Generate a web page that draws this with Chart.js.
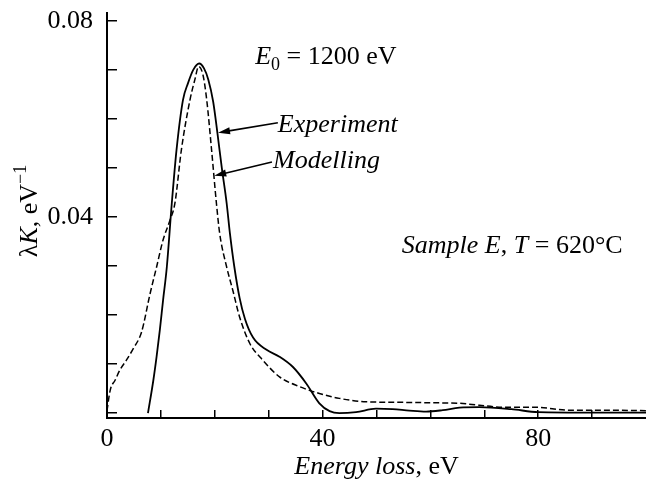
<!DOCTYPE html>
<html>
<head>
<meta charset="utf-8">
<script src="https://cdn.jsdelivr.net/npm/chart.js@4.4.1/dist/chart.umd.min.js"></script>
<style>
  html, body { margin: 0; padding: 0; background: #fff; }
  canvas { display: block; }
</style>
</head>
<body>
<canvas id="lossChart" width="646" height="485"></canvas>
<script>
// Energy loss (eV) and lambda*K (1/eV)
const expEnergy = [7.6, 8.6, 9.2, 9.8, 10.4, 11.1, 12.0, 12.9, 14.1, 15.0,
    16.0, 17.1, 18.0, 18.8, 19.7, 20.5, 21.3, 22.2, 22.8, 23.6,
    24.6, 25.6, 27.1, 29.6, 32.0, 34.5, 37.0, 39.4, 41.3, 43.1,
    46.2, 49.9, 53.0, 56.1, 59.2, 62.3, 65.4, 69.1, 75, 80, 90, 100];
const expValue = [0, 0.0067, 0.0115, 0.0169, 0.023, 0.0298, 0.0425, 0.0537, 0.0639, 0.0672,
    0.0700, 0.0713, 0.0703, 0.068, 0.0635, 0.057, 0.050, 0.0428, 0.0367, 0.030,
    0.0235, 0.0192, 0.0154, 0.0129, 0.0115, 0.0094, 0.006, 0.002, 0.0004, 0,
    0.0002, 0.0009, 0.0008, 0.0005, 0.0003, 0.0006, 0.0011, 0.0012, 0.0008, 0.0002, 0.0001, 0.0001];

const modEnergy = [0, 0.6, 1.5, 2.4, 3.6, 4.9, 6.4, 8.0, 9.2, 10.4,
    11.7, 12.6, 13.8, 15.4, 16.3, 17.0, 17.8, 18.5, 19.4, 20.3,
    20.9, 22.2, 23.4, 24.6, 26.5, 28.9, 32.0, 35.7, 39.4, 43.1,
    48.1, 54.3, 60.4, 65.4, 69.1, 73.4, 79.5, 85.7, 91.9, 100];
const modValue = [0.0005, 0.0047, 0.0067, 0.0088, 0.0108, 0.0132, 0.0165, 0.0244, 0.0298, 0.0353,
    0.0394, 0.0428, 0.0537, 0.0639, 0.068, 0.0707, 0.069, 0.0639, 0.0537, 0.0428,
    0.0367, 0.0298, 0.0248, 0.0196, 0.0142, 0.0108, 0.0074, 0.0054, 0.004, 0.003,
    0.0023, 0.0022, 0.0021, 0.002, 0.0016, 0.0012, 0.0012, 0.0006, 0.0006, 0.0005];

const xTickValues = [0, 10, 20, 30, 40, 50, 60, 70, 80, 90];
const xTickText = ['0', '', '', '', '40', '', '', '', '80', ''];
const yTickValues = [0, 0.01, 0.02, 0.03, 0.04, 0.05, 0.06, 0.07, 0.08];
const yTickText = ['', '', '', '', '0.04', '', '', '', '0.08'];

const SERIF = "'Liberation Serif', 'Times New Roman', serif";

function toPoints(xs, ys) {
    return xs.map((x, i) => ({ x: x, y: ys[i] }));
}

// draw a row of text pieces with their own fonts, left to right
function drawRuns(ctx, x, y, runs) {
    runs.forEach(r => {
        ctx.font = r.font;
        ctx.fillText(r.t, x, y + (r.dy || 0));
        x += ctx.measureText(r.t).width;
    });
}

function runsWidth(ctx, runs) {
    let w = 0;
    runs.forEach(r => { ctx.font = r.font; w += ctx.measureText(r.t).width; });
    return w;
}

function arrow(ctx, x1, y1, x2, y2) {
    const a = Math.atan2(y2 - y1, x2 - x1);
    ctx.beginPath();
    ctx.moveTo(x1, y1);
    ctx.lineTo(x2 - 8 * Math.cos(a), y2 - 8 * Math.sin(a));
    ctx.lineWidth = 1.6;
    ctx.stroke();
    ctx.beginPath();
    ctx.moveTo(x2, y2);
    ctx.lineTo(x2 - 12 * Math.cos(a) + 3.5 * Math.sin(a), y2 - 12 * Math.sin(a) - 3.5 * Math.cos(a));
    ctx.lineTo(x2 - 12 * Math.cos(a) - 3.5 * Math.sin(a), y2 - 12 * Math.sin(a) + 3.5 * Math.cos(a));
    ctx.closePath();
    ctx.fill();
}

const IT = 'italic 26px ' + SERIF;
const RG = '26px ' + SERIF;
const SUB = '18px ' + SERIF;

const labelPlugin = {
    id: 'labels',
    afterDraw(chart) {
        const { ctx, chartArea } = chart;
        const x = chart.scales.x, y = chart.scales.y;
        ctx.save();
        ctx.fillStyle = '#000';
        ctx.strokeStyle = '#000';
        ctx.textBaseline = 'alphabetic';
        ctx.textAlign = 'left';

        drawRuns(ctx, x.getPixelForValue(27.5), y.getPixelForValue(0.0712), [
            { t: 'E', font: IT }, { t: '0', font: SUB, dy: 6 }, { t: ' = 1200 eV', font: RG }
        ]);
        drawRuns(ctx, x.getPixelForValue(31.7), y.getPixelForValue(0.0573), [{ t: 'Experiment', font: IT }]);
        drawRuns(ctx, x.getPixelForValue(30.8), y.getPixelForValue(0.0500), [{ t: 'Modelling', font: IT }]);
        drawRuns(ctx, x.getPixelForValue(54.7), y.getPixelForValue(0.0326), [
            { t: 'Sample E', font: IT }, { t: ', ', font: RG }, { t: 'T', font: IT }, { t: ' = 620°C', font: RG }
        ]);

        arrow(ctx, x.getPixelForValue(31.7), y.getPixelForValue(0.0592), x.getPixelForValue(20.6), y.getPixelForValue(0.0572));
        arrow(ctx, x.getPixelForValue(30.6), y.getPixelForValue(0.0512), x.getPixelForValue(19.9), y.getPixelForValue(0.0484));

        // x axis title
        const xRuns = [{ t: 'Energy loss', font: IT }, { t: ', eV', font: RG }];
        const cx = (chartArea.left + chartArea.right) / 2;
        drawRuns(ctx, cx - runsWidth(ctx, xRuns) / 2, 474, xRuns);

        // y axis title, rotated
        const yRuns = [{ t: 'λ', font: RG }, { t: 'K', font: IT }, { t: ', eV', font: RG }, { t: '−1', font: SUB, dy: -11 }];
        ctx.translate(37, 211);
        ctx.rotate(-Math.PI / 2);
        drawRuns(ctx, -runsWidth(ctx, yRuns) / 2, 0, yRuns);
        ctx.restore();
    }
};

new Chart(document.getElementById('lossChart'), {
    type: 'line',
    data: {
        datasets: [{
            label: 'Experiment',
            data: toPoints(expEnergy, expValue),
            borderColor: '#000',
            borderWidth: 1.8,
            pointRadius: 0,
            cubicInterpolationMode: 'monotone',
            fill: false
        }, {
            label: 'Modelling',
            data: toPoints(modEnergy, modValue),
            borderColor: '#000',
            borderWidth: 1.5,
            borderDash: [6, 3],
            pointRadius: 0,
            cubicInterpolationMode: 'monotone',
            fill: false
        }]
    },
    options: {
        responsive: false,
        animation: false,
        layout: { padding: { top: 13, right: 0, bottom: 0, left: 0 } },
        plugins: { legend: { display: false }, tooltip: { enabled: false } },
        scales: {
            x: {
                type: 'linear', min: 0, max: 100,
                afterBuildTicks: s => { s.ticks = xTickValues.map(v => ({ value: v })); },
                afterFit: s => { s.height = 67; s.paddingLeft = 0; s.paddingRight = 0; },
                ticks: {
                    callback: (v, i) => xTickText[i],
                    autoSkip: false, maxRotation: 0, padding: 14,
                    color: '#000', font: { family: SERIF, size: 26 }
                },
                grid: { drawOnChartArea: false, tickLength: -8, color: '#000', lineWidth: 1.5 },
                border: { color: '#000', width: 2 }
            },
            y: {
                type: 'linear', min: -0.001, max: 0.0816,
                afterBuildTicks: s => { s.ticks = yTickValues.map(v => ({ value: v })); },
                afterFit: s => { s.width = 107; s.paddingTop = 0; s.paddingBottom = 0; },
                ticks: {
                    callback: (v, i) => yTickText[i],
                    autoSkip: false, padding: 24,
                    color: '#000', font: { family: SERIF, size: 26 }
                },
                grid: { drawOnChartArea: false, tickLength: -10, color: '#000', lineWidth: 1.5 },
                border: { color: '#000', width: 2 }
            }
        }
    },
    plugins: [labelPlugin]
});
</script>
</body>
</html>
